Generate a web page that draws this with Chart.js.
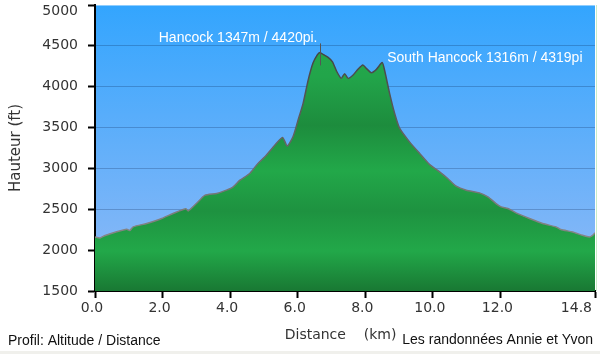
<!DOCTYPE html>
<html lang="fr">
<head>
<meta charset="UTF-8">
<title>Profil Hancock</title>
<style>
    html, body { margin: 0; padding: 0; background: #fff; }
    #wrap { width: 600px; height: 354px; position: relative; }
</style>
</head>
<body>
<div id="wrap"><canvas id="profil" width="600" height="354"></canvas></div>

<script src="https://cdn.jsdelivr.net/npm/chart.js@4.4.1/dist/chart.umd.min.js"></script>
<script>
var distanceKm = [0.00, 0.15, 0.30, 0.64, 0.94, 1.03, 1.13, 1.53, 1.92, 2.31, 2.61, 2.70, 2.76, 3.00,
    3.25, 3.60, 3.89, 4.09, 4.29, 4.58, 4.78, 5.07, 5.32, 5.55, 5.69, 5.86, 6.01, 6.16, 6.31, 6.45,
    6.58, 6.66, 6.75, 6.90, 7.03, 7.16, 7.29, 7.39, 7.49, 7.64, 7.78, 7.93, 8.03, 8.18, 8.33, 8.50,
    8.57, 8.72, 8.87, 9.02, 9.31, 9.61, 9.90, 10.20, 10.44, 10.69, 10.99, 11.38, 11.63, 11.87, 12.02,
    12.22, 12.46, 12.86, 13.25, 13.65, 13.79, 14.14, 14.43, 14.63, 14.73, 14.80];
var altitudeFt = [2160, 2150, 2180, 2225, 2256, 2240, 2285, 2326, 2378, 2448, 2497, 2505, 2480, 2570,
    2670, 2693, 2734, 2774, 2856, 2938, 3040, 3162, 3285, 3380, 3275, 3387, 3590, 3796, 4080, 4286,
    4390, 4420, 4395, 4360, 4305, 4183, 4102, 4160, 4102, 4143, 4212, 4265, 4224, 4171, 4212, 4295,
    4204, 3918, 3673, 3490, 3325, 3183, 3050, 2958, 2877, 2783, 2734, 2701, 2652, 2570, 2530,
    2510, 2456, 2387, 2326, 2284, 2252, 2223, 2182, 2162, 2182, 2211];

var xTicks = [0, 2, 4, 6, 8, 10, 12, 14.8];
var yTicks = [1500, 2000, 2500, 3000, 3500, 4000, 4500, 5000];

var peakNames = ['Hancock 1347m / 4420pi.', 'South Hancock 1316m / 4319pi'];
var peakKm = [6.66, 8.50];
var peakFt = [4420, 4319];

var labelFont = '"DejaVu Sans", Verdana, sans-serif';
var textFont = '"Liberation Sans", Arial, sans-serif';

// fond bleu degradé + textes
var decor = {
    id: 'decor',
    beforeDraw: function (chart) {
        var c = chart.ctx, a = chart.chartArea;
        var g = c.createLinearGradient(0, a.top, 0, a.bottom);
        g.addColorStop(0, '#33a5fe');
        g.addColorStop(1, '#92baf6');
        c.save();
        c.fillStyle = g;
        c.fillRect(a.left, a.top, a.right - a.left, a.bottom - a.top);
        c.fillStyle = '#f0f0ec';
        c.fillRect(0, chart.height - 3, chart.width, 3);
        c.restore();
    },
    afterDraw: function (chart) {
        var c = chart.ctx, a = chart.chartArea;
        var xs = chart.scales.x, ys = chart.scales.y;
        c.save();
        // repère du sommet Hancock
        c.strokeStyle = '#555';
        c.lineWidth = 1;
        var mx = Math.round(xs.getPixelForValue(peakKm[0])) + 0.5;
        c.beginPath();
        c.moveTo(mx, ys.getPixelForValue(peakFt[0]) - 9);
        c.lineTo(mx, ys.getPixelForValue(peakFt[0]) + 13);
        c.stroke();

        c.font = '14px ' + textFont;
        c.fillStyle = '#fff';
        c.textBaseline = 'middle';
        c.textAlign = 'right';
        c.fillText(peakNames[0], mx - 3, ys.getPixelForValue(peakFt[0]) - 14);
        c.textAlign = 'left';
        c.fillText(peakNames[1], xs.getPixelForValue(peakKm[1]) + 5, ys.getPixelForValue(peakFt[1]) - 3);

        // bordure droite
        c.strokeStyle = '#c8ecc8';
        c.beginPath();
        c.moveTo(a.right + 1.5, a.top);
        c.lineTo(a.right + 1.5, a.bottom);
        c.stroke();

        c.fillStyle = '#111';
        c.textAlign = 'left';
        c.fillText('Profil: Altitude / Distance', 8, 341);
        c.textAlign = 'right';
        c.fillText('Les randonnées Annie et Yvon', 593, 340);
        c.restore();
    }
};

new Chart(document.getElementById('profil'), {
    type: 'line',
    data: {
        datasets: [{
            data: distanceKm.map(function (d, i) { return { x: d, y: altitudeFt[i] }; }),
            fill: 'start',
            tension: 0.2,
            pointRadius: 0,
            borderWidth: 1.5,
            borderColor: function (ctx) {
                var a = ctx.chart.chartArea;
                if (!a) return '#555';
                var g = ctx.chart.ctx.createLinearGradient(0, a.top, 0, a.bottom);
                g.addColorStop(0, '#333');
                g.addColorStop(0.5, '#666');
                g.addColorStop(1, '#999');
                return g;
            },
            backgroundColor: function (ctx) {
                var a = ctx.chart.chartArea;
                if (!a) return '#22a84a';
                var g = ctx.chart.ctx.createLinearGradient(0, a.top, 0, a.bottom);
                g.addColorStop(0, '#24ac4c');
                g.addColorStop(0.25, '#22a54a');
                g.addColorStop(0.42, '#1d8c3d');
                g.addColorStop(0.58, '#22a849');
                g.addColorStop(0.72, '#1e9240');
                g.addColorStop(0.86, '#22a849');
                g.addColorStop(1, '#197833');
                return g;
            }
        }]
    },
    options: {
        responsive: false,
        animation: false,
        layout: { padding: { left: 0, right: 5, top: 5, bottom: 0 } },
        plugins: { legend: { display: false }, tooltip: { enabled: false } },
        scales: {
            x: {
                type: 'linear',
                min: 0,
                max: 14.8,
                z: 1,
                afterBuildTicks: function (axis) {
                    axis.ticks = xTicks.map(function (v) { return { value: v }; });
                },
                afterFit: function (axis) {
                    axis.height = 63;
                    axis.paddingLeft = 0;
                    axis.paddingRight = 0;
                },
                grid: { drawOnChartArea: false, drawTicks: true, tickLength: 7, tickColor: '#000', tickWidth: 2 },
                border: { color: '#000', width: 2 },
                ticks: {
                    autoSkip: false,
                    maxRotation: 0,
                    padding: 2,
                    labelOffset: -3,
                    color: '#333',
                    font: { family: labelFont, size: 14 },
                    callback: function (v, i, all) {
                        var s = Number(v).toFixed(1);
                        // le dernier libellé reste dans le cadre
                        return i === all.length - 1 ? s + '       ' : s;
                    }
                },
                title: {
                    display: true,
                    text: 'Distance    (km)  ',
                    color: '#333',
                    font: { family: labelFont, size: 14 },
                    padding: { top: 0, bottom: 10 }
                }
            },
            y: {
                min: 1500,
                max: 5000,
                z: 1,
                afterBuildTicks: function (axis) {
                    axis.ticks = yTicks.map(function (v) { return { value: v }; });
                },
                afterFit: function (axis) {
                    axis.width = 95;
                    axis.paddingTop = 0;
                    axis.paddingBottom = 0;
                },
                grid: {
                    color: function (ctx) {
                        return ctx.tick && ctx.tick.value === 5000 ? 'rgba(255,255,255,0.45)' : 'rgba(0,20,60,0.22)';
                    },
                    lineWidth: 1,
                    tickLength: 7,
                    tickColor: '#000',
                    tickWidth: 2
                },
                border: { color: '#000', width: 2 },
                ticks: {
                    padding: 10,
                    color: '#333',
                    font: function (ctx) {
                        var top = ctx.tick && ctx.tick.value === 5000;
                        return { family: labelFont, size: 14, lineHeight: top ? '12px' : 1.2 };
                    },
                    callback: function (v) {
                        // le libellé du haut descend un peu pour rester visible
                        return v === 5000 ? ['', String(v)] : String(v);
                    }
                },
                title: {
                    display: true,
                    text: 'Hauteur (ft)',
                    color: '#333',
                    font: { family: labelFont, size: 15 },
                    padding: { top: 7, bottom: 0 }
                }
            }
        }
    },
    plugins: [decor]
});
</script>
</body>
</html>
